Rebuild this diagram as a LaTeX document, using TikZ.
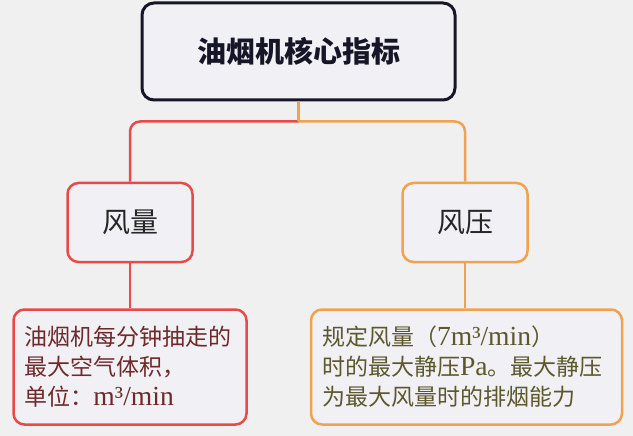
\documentclass[tikz,border=0pt]{standalone}
\usepackage{fontspec}
\setmainfont{Liberation Serif}[Scale=1.2]
\newfontfamily\cjk{Noto Sans CJK SC}
\usepackage{tikz}
\usetikzlibrary{positioning}
\definecolor{pagebg}{RGB}{240,240,241}
\definecolor{boxfill}{RGB}{241,241,245}
\definecolor{navy}{RGB}{22,22,40}
\definecolor{redline}{RGB}{232,74,74}
\definecolor{orangeline}{RGB}{240,162,80}
\definecolor{redtext}{RGB}{110,42,42}
\definecolor{olivetext}{RGB}{92,88,44}

\begin{document}
\begin{tikzpicture}[
  x=1pt, y=-1pt,
  node distance=45pt,
  topbox/.style={rectangle, draw=navy, line width=3pt, fill=boxfill, rounded corners=12pt,
                 minimum width=313pt, minimum height=97pt, text=navy,
                 font=\cjk\bfseries\fontsize{29}{34}\selectfont},
  kidbox/.style={rectangle, line width=2.5pt, fill=boxfill, rounded corners=11pt,
                 minimum width=125pt, minimum height=79pt, text=black!85,
                 font=\cjk\fontsize{28}{32}\selectfont},
  notebox/.style={rectangle, line width=2.5pt, fill=boxfill, rounded corners=11pt,
                  minimum height=115pt, inner xsep=11pt, align=left,
                  font=\fontsize{23}{30}\selectfont},
  link/.style={line width=2.5pt, rounded corners=10pt}
]
  \fill[pagebg] (0,0) rectangle (633,436);
  \useasboundingbox (0,0) rectangle (633,436);

  \node[topbox] (top) at (298.5,51.5) {油烟机核心指标};
  \node[kidbox, draw=redline] (qty) at (130,222.5) {风量};
  \node[kidbox, draw=orangeline] (prs) at (465,222.5) {风压};
  \node[notebox, draw=redline, text=redtext, text width=211pt, below=of qty] (qtynote)
    {{\cjk 油烟机每分钟抽走的}\\{\cjk 最大空气体积，}\\{\cjk 单位：}m³/min};
  \node[notebox, draw=orangeline, text=olivetext, text width=289pt, below=of prs, xshift=1.5pt] (prsnote)
    {{\cjk 规定风量（}7m³/min{\cjk ）}\\{\cjk 时的最大静压}Pa{\cjk 。最大静压}\\{\cjk 为最大风量时的排烟能力}};

  \coordinate[below=20pt of top.south] (fork);
  \draw[link, redline] (fork) -| (qty.north);
  \draw[link, orangeline] (fork) -| (prs.north);
  \draw[line width=2.5pt, orangeline] (top.south) -- (fork);
  \draw[link, redline] (qty.south) -- (qtynote.north);
  \draw[link, orangeline] (prs.south) -- (prs.south |- prsnote.north);
\end{tikzpicture}
\end{document}
